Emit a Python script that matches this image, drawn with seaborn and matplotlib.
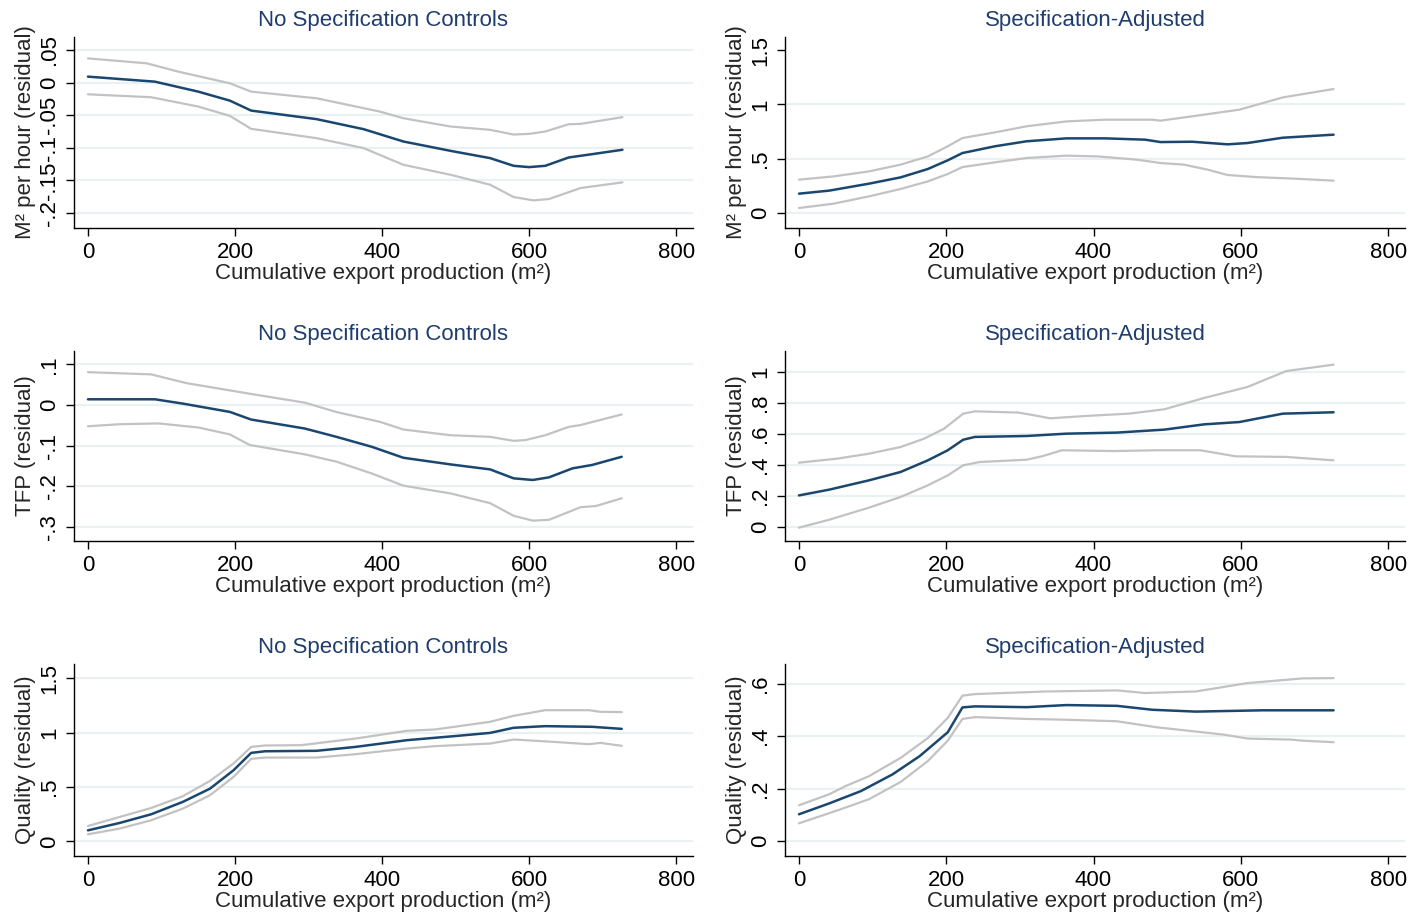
import matplotlib
matplotlib.use("Agg")
import matplotlib.pyplot as plt
import seaborn as sns

# ---- Row 1: output per hour (M² per hour, residual) ----
p1_mid_x = [0, 91, 150, 193, 222, 311, 375, 429, 493, 547, 579, 600, 622, 654, 686, 727]
p1_mid_y = [0.0092, 0.0015, -0.0138, -0.0276, -0.0429, -0.056, -0.0714, -0.0903, -0.1046,
            -0.1158, -0.1276, -0.1296, -0.1276, -0.1148, -0.1097, -0.103]
p1_hi_x = [0, 80, 123, 193, 222, 311, 397, 429, 493, 547, 579, 600, 622, 654, 670, 727]
p1_hi_y = [0.0372, 0.0296, 0.0168, -0.001, -0.0138, -0.024, -0.0444, -0.0546, -0.0673,
           -0.0724, -0.0796, -0.0786, -0.075, -0.0638, -0.0633, -0.053]
p1_lo_x = [0, 86, 150, 193, 222, 311, 375, 429, 493, 547, 579, 606, 627, 670, 727]
p1_lo_y = [-0.0179, -0.0224, -0.0367, -0.051, -0.0709, -0.0852, -0.1005, -0.126, -0.1413,
           -0.1566, -0.1755, -0.1806, -0.1786, -0.1617, -0.153]

p2_mid_x = [0, 41, 95, 138, 175, 202, 222, 266, 309, 363, 416, 470, 491, 534, 582, 609, 657, 726]
p2_mid_y = [0.178, 0.206, 0.270, 0.328, 0.405, 0.485, 0.552, 0.614, 0.660, 0.687, 0.687,
            0.675, 0.653, 0.656, 0.632, 0.644, 0.693, 0.721]
p2_hi_x = [0, 47, 95, 138, 175, 202, 222, 266, 309, 363, 416, 480, 491, 534, 598, 657, 726]
p2_hi_y = [0.307, 0.337, 0.383, 0.445, 0.521, 0.614, 0.690, 0.742, 0.798, 0.843, 0.859,
           0.859, 0.850, 0.890, 0.951, 1.064, 1.141]
p2_lo_x = [0, 47, 95, 138, 175, 202, 222, 266, 309, 363, 405, 459, 491, 523, 555, 582, 620, 673, 726]
p2_lo_y = [0.046, 0.086, 0.153, 0.221, 0.291, 0.359, 0.423, 0.466, 0.506, 0.528, 0.521,
           0.491, 0.460, 0.445, 0.399, 0.350, 0.331, 0.316, 0.298]

# ---- Row 2: TFP (residual) ----
p3_mid_x = [0, 91, 129, 193, 222, 295, 338, 386, 429, 493, 547, 579, 605, 627, 659, 686, 726]
p3_mid_y = [0.0143, 0.0143, 0.0037, -0.0167, -0.0355, -0.0576, -0.078, -0.1024, -0.1294,
            -0.1457, -0.158, -0.180, -0.184, -0.1776, -0.1555, -0.147, -0.127]
p3_hi_x = [0, 86, 134, 220, 295, 338, 397, 429, 493, 547, 579, 595, 622, 654, 670, 726]
p3_hi_y = [0.081, 0.0755, 0.054, 0.028, 0.006, -0.017, -0.041, -0.060, -0.074, -0.078,
           -0.0878, -0.086, -0.074, -0.0535, -0.049, -0.023]
p3_lo_x = [0, 43, 96, 150, 193, 220, 295, 338, 386, 429, 493, 547, 579, 605, 627, 670, 691, 726]
p3_lo_y = [-0.052, -0.047, -0.045, -0.055, -0.072, -0.098, -0.121, -0.139, -0.168, -0.198,
           -0.217, -0.241, -0.272, -0.284, -0.282, -0.251, -0.248, -0.229]

p4_mid_x = [0, 41, 95, 138, 175, 202, 223, 239, 309, 363, 432, 496, 550, 598, 657, 726]
p4_mid_y = [0.204, 0.241, 0.301, 0.355, 0.430, 0.495, 0.563, 0.581, 0.587, 0.602, 0.609,
            0.628, 0.662, 0.677, 0.731, 0.740]
p4_hi_x = [0, 52, 95, 138, 170, 197, 223, 239, 298, 320, 341, 389, 448, 496, 550, 609, 662, 726]
p4_hi_y = [0.415, 0.441, 0.473, 0.516, 0.570, 0.634, 0.731, 0.746, 0.738, 0.720, 0.701,
           0.716, 0.731, 0.759, 0.832, 0.903, 1.006, 1.047]
p4_lo_x = [0, 41, 95, 138, 175, 202, 223, 245, 309, 330, 357, 427, 486, 545, 593, 662, 726]
p4_lo_y = [-0.004, 0.047, 0.125, 0.194, 0.269, 0.333, 0.398, 0.419, 0.434, 0.456, 0.495,
           0.490, 0.495, 0.495, 0.456, 0.452, 0.430]

# ---- Row 3: Quality (residual) ----
p5_mid_x = [0, 43, 86, 129, 166, 198, 222, 241, 311, 364, 434, 498, 547, 579, 622, 686, 726]
p5_mid_y = [0.101, 0.169, 0.249, 0.363, 0.485, 0.654, 0.814, 0.829, 0.833, 0.869, 0.931,
            0.968, 0.998, 1.045, 1.060, 1.054, 1.035]
p5_hi_x = [0, 43, 86, 129, 166, 198, 222, 241, 290, 364, 434, 472, 547, 579, 622, 681, 697, 726]
p5_hi_y = [0.141, 0.224, 0.307, 0.415, 0.556, 0.716, 0.869, 0.882, 0.885, 0.946, 1.017,
           1.029, 1.100, 1.155, 1.207, 1.207, 1.192, 1.189]
p5_lo_x = [0, 43, 86, 129, 166, 198, 222, 241, 311, 364, 434, 472, 547, 579, 632, 681, 697, 726]
p5_lo_y = [0.065, 0.117, 0.194, 0.301, 0.424, 0.593, 0.759, 0.771, 0.771, 0.802, 0.854,
           0.876, 0.900, 0.937, 0.916, 0.894, 0.906, 0.879]

p6_mid_x = [0, 41, 84, 127, 164, 202, 222, 239, 309, 363, 432, 480, 539, 630, 726]
p6_mid_y = [0.1015, 0.143, 0.190, 0.254, 0.324, 0.415, 0.510, 0.514, 0.511, 0.519, 0.516,
            0.501, 0.494, 0.499, 0.499]
p6_hi_x = [0, 41, 63, 95, 138, 175, 202, 222, 239, 336, 432, 470, 539, 609, 684, 726]
p6_hi_y = [0.136, 0.178, 0.209, 0.247, 0.317, 0.393, 0.470, 0.555, 0.561, 0.571, 0.575,
           0.565, 0.571, 0.603, 0.621, 0.622]
p6_lo_x = [0, 57, 95, 138, 175, 202, 222, 239, 309, 363, 432, 486, 577, 609, 668, 684, 726]
p6_lo_y = [0.067, 0.121, 0.159, 0.225, 0.305, 0.383, 0.466, 0.473, 0.466, 0.463, 0.457,
           0.434, 0.406, 0.391, 0.387, 0.383, 0.377]

titles = ["No Specification Controls", "Specification-Adjusted"]
ylabels = ["M² per hour (residual)", "TFP (residual)", "Quality (residual)"]
xlabel = "Cumulative export production (m²)"
xticks = [0, 200, 400, 600, 800]

ytick_vals = [
    [-0.2, -0.15, -0.1, -0.05, 0, 0.05],
    [0, 0.5, 1, 1.5],
    [-0.3, -0.2, -0.1, 0, 0.1],
    [0, 0.2, 0.4, 0.6, 0.8, 1],
    [0, 0.5, 1, 1.5],
    [0, 0.2, 0.4, 0.6],
]
ytick_text = [
    ["-.2", "-.15", "-.1", "-.05", "0", ".05"],
    ["0", ".5", "1", "1.5"],
    ["-.3", "-.2", "-.1", "0", ".1"],
    ["0", ".2", ".4", ".6", ".8", "1"],
    ["0", ".5", "1", "1.5"],
    ["0", ".2", ".4", ".6"],
]
# ticks that get no horizontal grid line
no_grid = [[], [1.5], [], [], [], []]
ylims = [(-0.223, 0.07), (-0.138, 1.62), (-0.334, 0.133), (-0.09, 1.135), (-0.135, 1.632), (-0.058, 0.676)]

panels = [
    (p1_mid_x, p1_mid_y, p1_hi_x, p1_hi_y, p1_lo_x, p1_lo_y),
    (p2_mid_x, p2_mid_y, p2_hi_x, p2_hi_y, p2_lo_x, p2_lo_y),
    (p3_mid_x, p3_mid_y, p3_hi_x, p3_hi_y, p3_lo_x, p3_lo_y),
    (p4_mid_x, p4_mid_y, p4_hi_x, p4_hi_y, p4_lo_x, p4_lo_y),
    (p5_mid_x, p5_mid_y, p5_hi_x, p5_hi_y, p5_lo_x, p5_lo_y),
    (p6_mid_x, p6_mid_y, p6_hi_x, p6_hi_y, p6_lo_x, p6_lo_y),
]

sns.set_theme(style="white")
plt.rcParams["font.family"] = ["Liberation Sans", "DejaVu Sans"]

NAVY = "#1a476f"
CI_GRAY = "#c2c2c2"
TITLE_COL = "#1e3c6e"
GRID_COL = "#eaf1f3"
FS = 16

W, H = 1426, 918
fig = plt.figure(figsize=(W / 100, H / 100), dpi=100)
fig.patch.set_facecolor("white")

col_x = [74, 785]
col_w = [619, 620]
row_top = [37, 351, 664]
row_bot = [228, 541, 856]

for i, (mx, my, hx, hy, lx, ly) in enumerate(panels):
    r, c = divmod(i, 2)
    ax = fig.add_axes([col_x[c] / W, 1 - row_bot[r] / H, col_w[c] / W, (row_bot[r] - row_top[r]) / H])
    ax.set_facecolor("white")

    for v in ytick_vals[i]:
        if v not in no_grid[i]:
            ax.axhline(v, color=GRID_COL, linewidth=1.6, zorder=0)

    sns.lineplot(x=hx, y=hy, ax=ax, color=CI_GRAY, linewidth=1.6, estimator=None, zorder=2)
    sns.lineplot(x=lx, y=ly, ax=ax, color=CI_GRAY, linewidth=1.6, estimator=None, zorder=2)
    sns.lineplot(x=mx, y=my, ax=ax, color=NAVY, linewidth=1.8, estimator=None, zorder=3)

    ax.set_xlim(-19, 823)
    ax.set_ylim(*ylims[i])
    ax.set_xticks(xticks)
    ax.set_xticklabels([str(t) for t in xticks], fontsize=FS)
    ax.set_yticks(ytick_vals[i])
    ax.set_yticklabels(ytick_text[i], fontsize=FS, rotation=90, va="center")
    ax.tick_params(axis="both", direction="out", length=6, width=1.0, color="black",
                   labelcolor="black", bottom=True, left=True)
    ax.tick_params(axis="x", pad=4)
    ax.tick_params(axis="y", pad=4)

    for side in ["top", "right"]:
        ax.spines[side].set_visible(False)
    for side in ["left", "bottom"]:
        ax.spines[side].set_color("black")
        ax.spines[side].set_linewidth(1.0)

    ax.set_xlabel(xlabel, fontsize=FS, labelpad=0)
    ax.set_ylabel(ylabels[r], fontsize=FS, labelpad=2)
    ax.set_title(titles[c], fontsize=FS, color=TITLE_COL, pad=8)
    ax.grid(False)

fig.savefig("out.png", dpi=100, facecolor="white")
